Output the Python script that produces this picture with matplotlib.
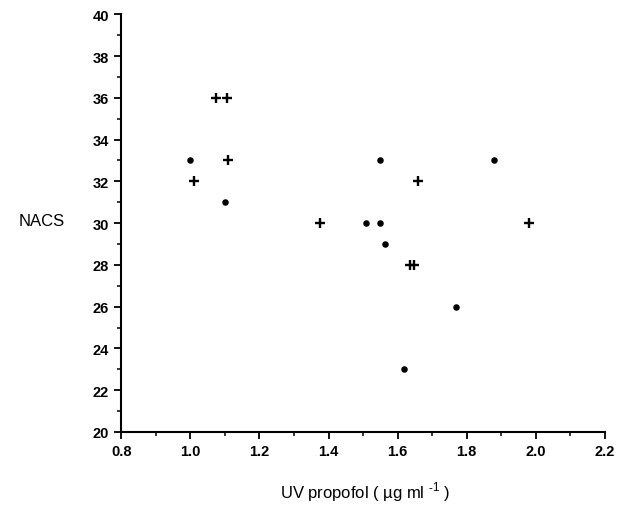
import matplotlib
matplotlib.use("Agg")
import matplotlib.pyplot as plt
from matplotlib.ticker import MultipleLocator

plt.rcParams['font.family'] = ['Liberation Sans', 'DejaVu Sans']
plt.rcParams['axes.unicode_minus'] = False

# ----------------------------
# data
# ----------------------------
# dots
dot_x = [1.00, 1.10, 1.51, 1.55, 1.55, 1.88, 1.565, 1.62, 1.77]
dot_y = [33, 31, 30, 30, 33, 33, 29, 23, 26]

# crosses
cross_x = [1.01, 1.075, 1.105, 1.11, 1.375, 1.66, 1.637, 1.647, 1.98]
cross_y = [32, 36, 36, 33, 30, 32, 28, 28, 30]

# ----------------------------
# figure
# ----------------------------
fig = plt.figure(figsize=(6.19, 5.10), dpi=100)
ax = fig.add_axes([0.196, 0.151, 0.781, 0.819])

ax.scatter(dot_x, dot_y, s=22, color='k', marker='o', linewidths=0)
ax.scatter(cross_x, cross_y, s=45, color='k', marker='+', linewidths=1.7)

ax.set_xlim(0.8, 2.2)
ax.set_ylim(20, 40)
ax.xaxis.set_major_locator(MultipleLocator(0.2))
ax.xaxis.set_minor_locator(MultipleLocator(0.1))
ax.yaxis.set_major_locator(MultipleLocator(2))
ax.yaxis.set_minor_locator(MultipleLocator(1))
ax.xaxis.set_major_formatter(plt.FormatStrFormatter('%.1f'))

for s in ['top', 'right']:
    ax.spines[s].set_visible(False)
for s in ['left', 'bottom']:
    ax.spines[s].set_linewidth(1.5)

ax.tick_params(which='major', direction='out', length=5, width=1.3,
               labelsize=10.5, pad=4)
ax.tick_params(which='minor', direction='out', length=3, width=1.1)
for lab in ax.get_xticklabels() + ax.get_yticklabels():
    lab.set_fontweight('bold')

# axis labels
fig.text(0.59, 0.035, 'UV propofol ( \u00b5g ml $^{\\mathregular{\u2011 1}}$ )',
         fontsize=12, ha='center', va='center')
fig.text(0.068, 0.565, 'NACS', fontsize=12, ha='center', va='center')

fig.savefig('out.png', dpi=100)
